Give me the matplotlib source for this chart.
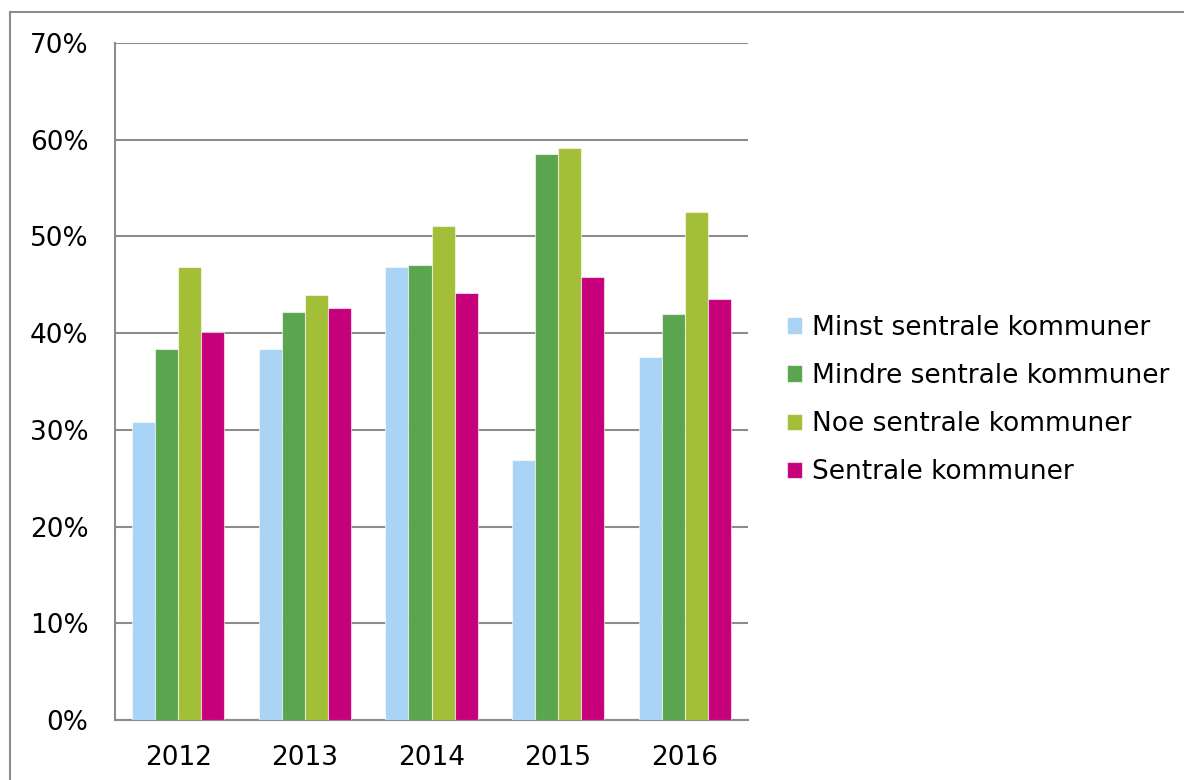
import matplotlib
matplotlib.use("Agg")
import matplotlib.pyplot as plt
import numpy as np
from matplotlib.lines import Line2D

years = ["2012", "2013", "2014", "2015", "2016"]
series_names = ["Minst sentrale kommuner", "Mindre sentrale kommuner",
                "Noe sentrale kommuner", "Sentrale kommuner"]
minst = [30.8, 38.4, 46.8, 26.9, 37.5]
mindre = [38.4, 42.2, 47.0, 58.5, 42.0]
noe = [46.8, 43.9, 51.1, 59.1, 52.5]
sentrale = [40.1, 42.6, 44.1, 45.8, 43.5]
colors = ["#A9D4F5", "#5BA550", "#A2BF37", "#C5007A"]
yticks = [0, 10, 20, 30, 40, 50, 60, 70]

plt.rcParams['font.family'] = ['DejaVu Sans']
fig = plt.figure(figsize=(11.84, 7.8), dpi=100)
ax = fig.add_axes([115/1184, 60/780, (748-115)/1184, (720-43)/780])

x = np.arange(len(years))
w = 0.182
data = [minst, mindre, noe, sentrale]
for i, (vals, c, name) in enumerate(zip(data, colors, series_names)):
    ax.bar(x + (i - 1.5) * w, vals, width=w, color=c, label=name,
           edgecolor=(1, 1, 1, 0.6), linewidth=0.8, zorder=3)

ax.set_xlim(-0.5, len(years) - 0.5)
ax.set_ylim(0, 70)
ax.set_yticks(yticks)
ax.set_yticklabels([f"{t}%" for t in yticks], fontsize=19)
ax.set_xticks(x)
ax.set_xticklabels(years, fontsize=19)
ax.tick_params(axis='both', length=0)
ax.tick_params(axis='y', pad=19)
ax.tick_params(axis='x', pad=18)
ax.yaxis.grid(True, color="#8c8c8c", linewidth=1.5, zorder=0)
ax.set_axisbelow(True)
for s in ["top", "right"]:
    ax.spines[s].set_visible(False)
for s in ["left", "bottom"]:
    ax.spines[s].set_color("#8c8c8c")
    ax.spines[s].set_linewidth(1.5)

fig.legend(loc="center left", bbox_to_anchor=(787/1184, 380/780),
           frameon=False, fontsize=19, handlelength=0.58, handleheight=0.58,
           handletextpad=0.35, labelspacing=0.84, borderpad=0, borderaxespad=0)

# outer border
fig.add_artist(Line2D([10/1184, 10/1184], [0, 1 - 12/780], transform=fig.transFigure,
                      color="#8c8c8c", linewidth=1.5))
fig.add_artist(Line2D([10/1184, 1], [1 - 12/780, 1 - 12/780], transform=fig.transFigure,
                      color="#8c8c8c", linewidth=1.5))

fig.savefig("out.png", dpi=100)
